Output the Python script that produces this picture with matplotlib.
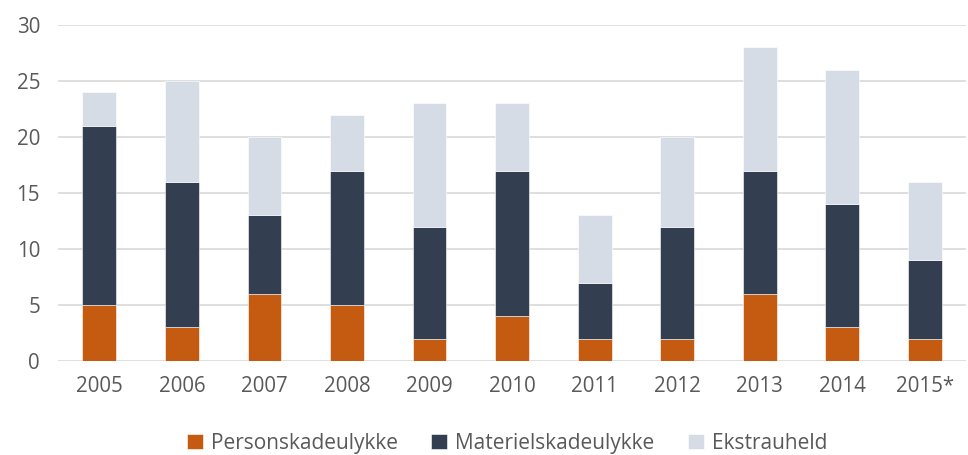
import numpy as np
import matplotlib
matplotlib.use("Agg")
from matplotlib import pyplot as plt

years = ["2005", "2006", "2007", "2008", "2009", "2010", "2011", "2012", "2013", "2014", "2015*"]
person = [5, 3, 6, 5, 2, 4, 2, 2, 6, 3, 2]
materiel = [16, 13, 7, 12, 10, 13, 5, 10, 11, 11, 7]
ekstra = [3, 9, 7, 5, 11, 6, 6, 8, 11, 12, 7]

labels = ["Personskadeulykke", "Materielskadeulykke", "Ekstrauheld"]
colors = ["#C55A11", "#333F50", "#D6DCE5"]

plt.rcParams['font.family'] = ['Open Sans', 'DejaVu Sans']

fig = plt.figure(figsize=(9.68, 4.55), dpi=100)
ax = fig.add_axes([0.06, 0.2066, 0.938, 0.7384])

x = np.arange(len(years))
w = 0.41
bottom = np.zeros(len(years))
for vals, lab, col in zip([person, materiel, ekstra], labels, colors):
    ax.bar(x, vals, w, bottom=bottom, color=col, label=lab, zorder=3,
           edgecolor="white", linewidth=0.4)
    bottom += np.array(vals)

ax.set_xlim(-0.5, len(years) - 0.5)
ax.set_ylim(0, 30)
ax.set_yticks(range(0, 31, 5))
ax.set_xticks(x)
ax.set_xticklabels(years)
ax.yaxis.grid(True, color="#D9D9D9", linewidth=1.2, zorder=0)
for s in ax.spines.values():
    s.set_visible(False)
ax.tick_params(axis="both", length=0, labelsize=14.8, colors="#595959")
ax.tick_params(axis="x", pad=11)
ax.tick_params(axis="y", pad=13)

leg = fig.legend(loc="lower center", bbox_to_anchor=(0.524, -0.038), ncol=3,
                 frameon=False, fontsize=15, handlelength=0.75, handleheight=0.75,
                 handletextpad=0.4, columnspacing=1.6)
for t in leg.get_texts():
    t.set_color("#595959")

fig.savefig("out.png", dpi=100)
